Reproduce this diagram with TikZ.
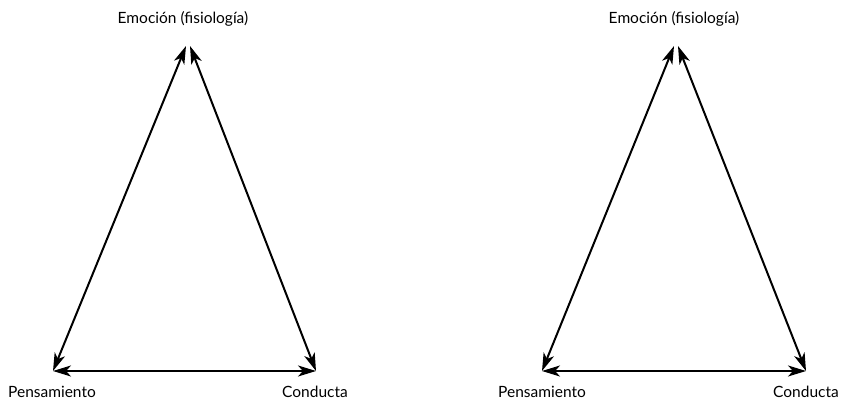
\documentclass[tikz,border=0pt]{standalone}
\usepackage{fontspec}
\setmainfont{Lato}
\usetikzlibrary{arrows.meta}
\tikzset{
  lbl/.style={inner sep=0pt, font=\fontsize{15.5}{18}\selectfont},
  rel/.style={line width=2pt, {Stealth[length=18pt,width=11pt,inset=5pt]}-{Stealth[length=18pt,width=11pt,inset=5pt]}},
}
\begin{document}
\begin{tikzpicture}[x=1pt,y=-1pt]
\useasboundingbox (0,0) rectangle (842,401);
% left triangle
\coordinate (lt1) at (186,46);
\coordinate (lt2) at (190,46);
\coordinate (lbl) at (53,371);
\coordinate (lbr) at (316,371);
\node[lbl] (le) at (183,19) {Emoción (fisiología)};
\node[lbl] (lp) at (52,392) {Pensamiento};
\node[lbl] (lc) at (315,392) {Conducta};
\draw[rel] (lbl) -- (lt1);
\draw[rel] (lt2) -- (lbr);
\draw[rel] (lbl) -- (lbr);
% right triangle
\coordinate (rt1) at (674,46);
\coordinate (rt2) at (678,46);
\coordinate (rbl) at (542,371);
\coordinate (rbr) at (806,371);
\node[lbl] (re) at (674,19) {Emoción (fisiología)};
\node[lbl] (rp) at (542,392) {Pensamiento};
\node[lbl] (rc) at (806,392) {Conducta};
\draw[rel] (rbl) -- (rt1);
\draw[rel] (rt2) -- (rbr);
\draw[rel] (rbl) -- (rbr);
\end{tikzpicture}
\end{document}
